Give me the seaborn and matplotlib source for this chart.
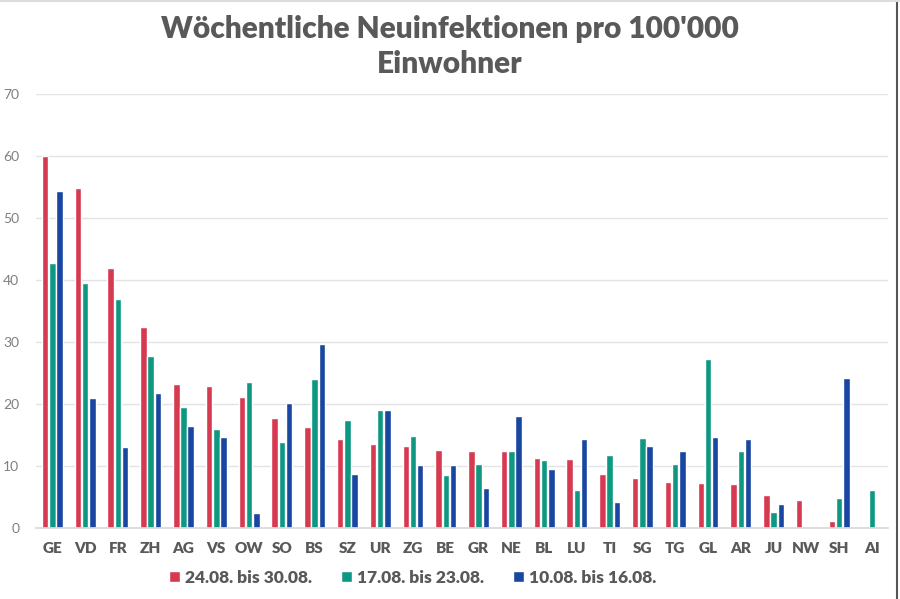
import numpy as np
import pandas as pd
import matplotlib.pyplot as plt
import seaborn as sns
from matplotlib.lines import Line2D

kantone = ['GE', 'VD', 'FR', 'ZH', 'AG', 'VS', 'OW', 'SO', 'BS', 'SZ', 'UR', 'ZG', 'BE',
           'GR', 'NE', 'BL', 'LU', 'TI', 'SG', 'TG', 'GL', 'AR', 'JU', 'NW', 'SH', 'AI']
woche_24_30 = [60.0, 54.8, 42.0, 32.5, 23.2, 22.9, 21.1, 17.8, 16.3, 14.4, 13.6, 13.3, 12.6,
               12.5, 12.4, 11.3, 11.2, 8.7, 8.0, 7.5, 7.3, 7.1, 5.4, 4.6, 1.2, 0.0]
woche_17_23 = [42.7, 39.6, 36.9, 27.8, 19.5, 15.9, 23.6, 13.9, 24.0, 17.5, 19.1, 14.9, 8.5,
               10.4, 12.4, 11.0, 6.2, 11.8, 14.5, 10.3, 27.2, 12.5, 2.6, 0.0, 4.8, 6.1]
woche_10_16 = [54.3, 21.0, 13.1, 21.7, 16.5, 14.7, 2.5, 20.1, 29.7, 8.7, 19.1, 10.1, 10.1,
               6.5, 18.0, 9.6, 14.3, 4.2, 13.2, 12.5, 14.7, 14.4, 3.9, 0.0, 24.2, 0.0]
serien = ['24.08. bis 30.08.', '17.08. bis 23.08.', '10.08. bis 16.08.']
farben = ['#D63A50', '#0E9882', '#1846A0']

df = pd.DataFrame({
    'Kanton': kantone * 3,
    'Woche': np.repeat(serien, len(kantone)),
    'Wert': woche_24_30 + woche_17_23 + woche_10_16,
})

sns.set_theme(style='white')
plt.rcParams['font.family'] = ['Lato', 'DejaVu Sans']

fig = plt.figure(figsize=(9, 5.99), dpi=100)
ax = fig.add_axes([0.04, 0.1185, 0.947, 0.7245])

sns.barplot(data=df, x='Kanton', y='Wert', hue='Woche', hue_order=serien,
            palette=farben, width=0.66, gap=0.1, saturation=1, ax=ax, legend=True)

ax.set_ylim(0, 70)
ax.set_xlim(-0.5, len(kantone) - 0.5)
ax.set_yticks(range(0, 71, 10))
ax.set_xticks(range(len(kantone)))
ax.set_xticklabels(kantone, fontweight='heavy')
ax.yaxis.grid(True, color='#E3E3E3', linewidth=1)
ax.set_axisbelow(True)
for s in ['top', 'right', 'left']:
    ax.spines[s].set_visible(False)
ax.spines['bottom'].set_color('#D9D9D9')
ax.set_xlabel('')
ax.set_ylabel('')
ax.tick_params(axis='y', length=0, labelsize=10, labelcolor='#7F7F7F', pad=12)
ax.tick_params(axis='x', length=0, labelsize=11, labelcolor='#595959', pad=10)

ax.legend(loc='upper center', bbox_to_anchor=(0.442, -0.06), ncol=3, frameon=False,
          prop={'size': 12.5, 'weight': 'heavy'}, handlelength=0.6, handleheight=0.6,
          handletextpad=0.3, columnspacing=1.7, labelcolor='#595959')

fig.suptitle("Wöchentliche Neuinfektionen pro 100'000\nEinwohner", y=0.975,
             fontsize=21.5, fontweight='heavy', color='#595959', linespacing=1.3)

# Rahmen wie im Screenshot
fig.add_artist(Line2D([0.997, 0.997], [0, 1], color='#555555', linewidth=1.5))
fig.add_artist(Line2D([0, 1], [0.998, 0.998], color='#DDDDDD', linewidth=1.5))

fig.savefig('out.png', dpi=100)
